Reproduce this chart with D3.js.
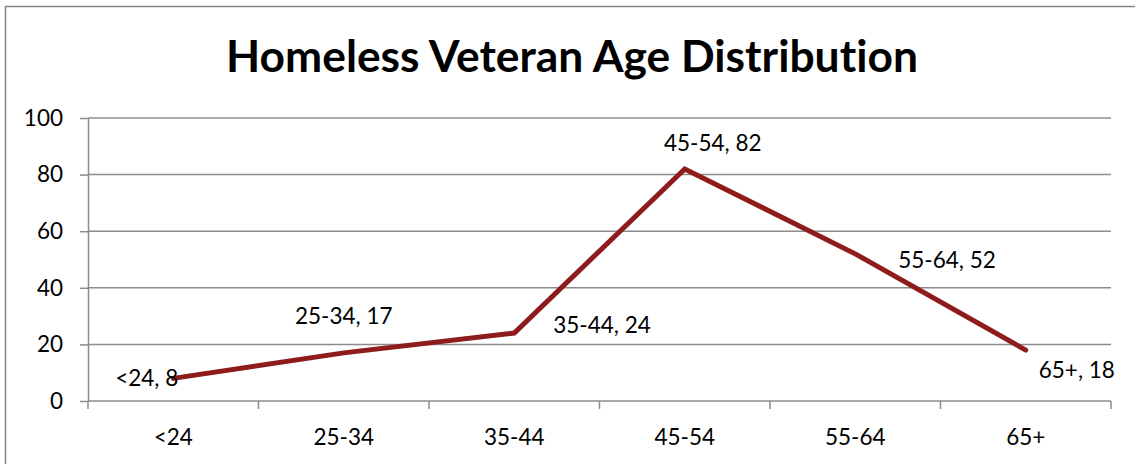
<!DOCTYPE html>
<html>
<head>
<meta charset="utf-8">
<script src="https://cdn.jsdelivr.net/npm/d3@7"></script>
<style>
  html, body { margin: 0; padding: 0; background: #fff; }
  svg { display: block; }
  text { font-family: Lato, "Open Sans", sans-serif; fill: #000; font-variant-ligatures: none; }
</style>
</head>
<body>
<svg id="chart" width="1135" height="464"></svg>
<script>
// Age groups and number of homeless veterans in each
const ageGroups = ["<24", "25-34", "35-44", "45-54", "55-64", "65+"];
const veteranCounts = [8, 17, 24, 82, 52, 18];
const yTicks = [0, 20, 40, 60, 80, 100];
const chartTitle = "Homeless Veteran Age Distribution";

// where each data label sits relative to its point
const labelPlacement = ["left", "above", "right", "aboveRight", "right2", "belowRight"];

const width = 1135, height = 464;
const margin = { left: 88, right: 24, top: 118, bottom: 63 };
const bodySize = 22.5;
const svg = d3.select("#chart");

// outer chart frame (runs past the right and bottom edges)
svg.append("rect")
  .attr("x", 5.5).attr("y", 6.5)
  .attr("width", width + 20).attr("height", height + 20)
  .attr("fill", "none").attr("stroke", "#868686").attr("stroke-width", 1.5);

const x = d3.scaleBand()
  .domain(ageGroups)
  .range([margin.left, width - margin.right]);
const y = d3.scaleLinear()
  .domain([0, 100])
  .range([height - margin.bottom, margin.top]);

// title
const title = svg.append("text")
  .attr("x", 572).attr("y", 72)
  .attr("text-anchor", "middle")
  .style("font-weight", "bold")
  .style("font-size", "36px")
  .text(chartTitle);
{
  const w = title.node().getComputedTextLength();
  title.style("font-size", (36 * 692 / w).toFixed(2) + "px");
}

const gridColor = "#8c8c8c";

// horizontal gridlines
svg.append("g")
  .selectAll("line")
  .data(yTicks.filter(d => d > 0))
  .join("line")
  .attr("x1", margin.left).attr("x2", width - margin.right)
  .attr("y1", d => y(d)).attr("y2", d => y(d))
  .attr("stroke", gridColor).attr("stroke-width", 1.5);

// y axis
const yAxis = svg.append("g")
  .attr("transform", `translate(${margin.left},0)`)
  .call(d3.axisLeft(y).tickValues(yTicks).tickSize(8).tickPadding(17).tickSizeOuter(0));
yAxis.select(".domain").attr("stroke", gridColor).attr("stroke-width", 1.5);
yAxis.selectAll(".tick line").attr("stroke", gridColor).attr("stroke-width", 1.5);
yAxis.selectAll(".tick text")
  .style("font-size", bodySize + "px")
  .style("font-family", "Lato, 'Open Sans', sans-serif")
  .attr("fill", "#000");

// x axis with ticks between categories
const xAxisG = svg.append("g")
  .attr("transform", `translate(0,${y(0)})`);
xAxisG.append("line")
  .attr("x1", margin.left).attr("x2", width - margin.right)
  .attr("stroke", gridColor).attr("stroke-width", 1.5);
const boundaries = ageGroups.map(d => x(d)).concat([x(ageGroups[ageGroups.length - 1]) + x.bandwidth()]);
xAxisG.selectAll("line.tk")
  .data(boundaries)
  .join("line")
  .attr("class", "tk")
  .attr("x1", d => d).attr("x2", d => d)
  .attr("y1", 0).attr("y2", 8)
  .attr("stroke", gridColor).attr("stroke-width", 1.5);
xAxisG.selectAll("text")
  .data(ageGroups)
  .join("text")
  .attr("x", d => x(d) + x.bandwidth() / 2)
  .attr("y", 44)
  .attr("text-anchor", "middle")
  .style("font-size", bodySize + "px")
  .text(d => d);

// the series line
const cx = d => x(d) + x.bandwidth() / 2;
const line = d3.line()
  .x((d, i) => cx(ageGroups[i]))
  .y(d => y(d));
svg.append("path")
  .datum(veteranCounts)
  .attr("d", line)
  .attr("fill", "none")
  .attr("stroke", "#8e1c1c")
  .attr("stroke-width", 5)
  .attr("stroke-linejoin", "miter")
  .attr("stroke-linecap", "round");

// data labels: "category, value"
const offsets = {
  left:       { dx: 5,   dy: 8,   anchor: "end" },
  above:      { dx: 0,   dy: -29, anchor: "middle" },
  right:      { dx: 39,  dy: 0,   anchor: "start" },
  aboveRight: { dx: 28,  dy: -18, anchor: "middle" },
  right2:     { dx: 43,  dy: 14,  anchor: "start" },
  belowRight: { dx: 13,  dy: 28,  anchor: "start" }
};
svg.append("g")
  .selectAll("text")
  .data(veteranCounts)
  .join("text")
  .each(function (d, i) {
    const o = offsets[labelPlacement[i]];
    d3.select(this)
      .attr("x", cx(ageGroups[i]) + o.dx)
      .attr("y", y(d) + o.dy)
      .attr("text-anchor", o.anchor)
      .style("font-size", bodySize + "px")
      .text(`${ageGroups[i]}, ${d}`);
  });
</script>
</body>
</html>
